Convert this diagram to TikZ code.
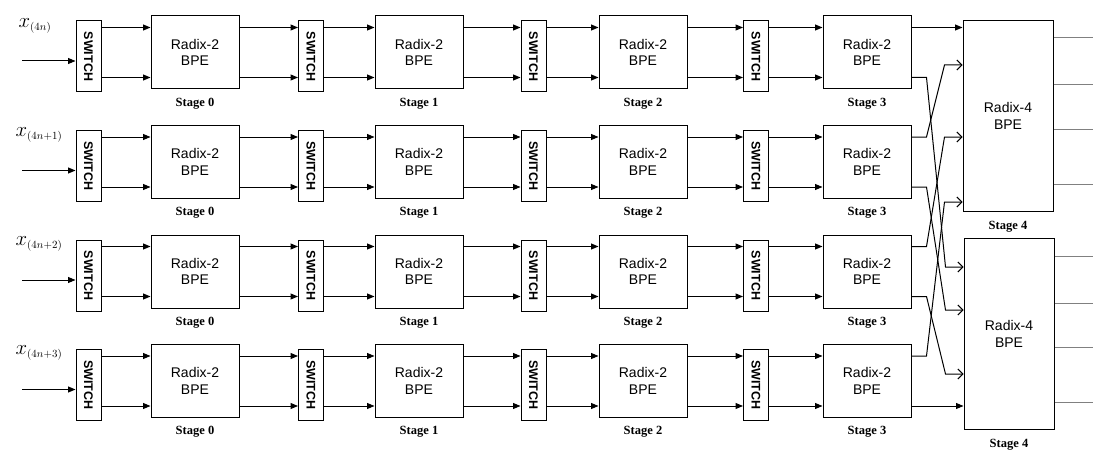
\documentclass[tikz,border=0pt]{standalone}
\usepackage{fontspec}
\setmainfont{Liberation Serif}
\setsansfont{Liberation Sans}
\usepackage{tikz}
\usetikzlibrary{positioning,arrows.meta,calc}

\begin{document}
\begin{tikzpicture}[x=1pt,y=-1pt,>={Triangle[length=7.5pt,width=6pt]},line width=1pt,
  every node/.style={font=\sffamily\fontsize{14}{16.5}\selectfont},
  bpe/.style={draw,minimum width=88pt,minimum height=73pt,align=center,inner sep=0pt},
  swbox/.style={draw,minimum width=25pt,minimum height=71pt,inner sep=0pt,font=\sffamily\bfseries\fontsize{12.5}{13}\selectfont},
  rfour/.style={draw,minimum width=90pt,minimum height=191pt,align=center,inner sep=0pt},
  stagelbl/.style={inner sep=1pt,font=\rmfamily\bfseries\fontsize{12.5}{13}\selectfont},
  xlbl/.style={font=\fontsize{21}{24}\selectfont},
  bent/.style={-{Straight Barb[length=5pt,width=10pt]}},
  outw/.style={gray}]
\useasboundingbox (0,0) rectangle (1093,452);
\foreach \r in {0,...,3}{
  \foreach \s in {0,...,3}{
    \node[swbox] (sw\r\s) at (88.5+222.5*\s,56.5+109.5*\r) {\rotatebox{-90}{SWITCH}};
    \node[bpe] (b\r\s) at (195+224*\s,52.5+109.5*\r) {Radix-2\\BPE};
    \node[stagelbl,below=7pt of b\r\s] (st\r\s) {Stage \s};
    \coordinate (pi\r\s1) at ([yshift=25pt]b\r\s.west);
    \coordinate (pi\r\s2) at ([yshift=-25pt]b\r\s.west);
    \coordinate (po\r\s1) at ([yshift=25pt]b\r\s.east);
    \coordinate (po\r\s2) at ([yshift=-25pt]b\r\s.east);
    \draw[->] (sw\r\s.east |- pi\r\s1) -- (pi\r\s1);
    \draw[->] (sw\r\s.east |- pi\r\s2) -- (pi\r\s2);
  }
  \foreach \s [count=\t from 1] in {0,1,2}{
    \draw[->] (po\r\s1) -- (po\r\s1 -| sw\r\t.west);
    \draw[->] (po\r\s2) -- (po\r\s2 -| sw\r\t.west);
  }
  \coordinate (in\r) at (22,61+109.5*\r);
  \draw[->] (in\r) -- (in\r -| sw\r0.west);
}
\node[xlbl] (x0) at (35,26) {$x_{\scriptscriptstyle (4n)}$};
\node[xlbl] (x1) at (39,135) {$x_{\scriptscriptstyle (4n+1)}$};
\node[xlbl] (x2) at (39,244) {$x_{\scriptscriptstyle (4n+2)}$};
\node[xlbl] (x3) at (39,353) {$x_{\scriptscriptstyle (4n+3)}$};

\node[rfour] (ra) at (1008,116) {Radix-4\\BPE};
\node[rfour] (rb) at (1009,334) {Radix-4\\BPE};
\node[stagelbl,below=8pt of ra] (sta) {Stage 4};
\node[stagelbl,below=8pt of rb] (stb) {Stage 4};

\coordinate (a2) at ($(ra.west)+(0,-51)$);
\coordinate (a3) at ($(ra.west)+(0,21)$);
\coordinate (a4) at ($(ra.west)+(0,86)$);
\coordinate (c1) at ($(rb.west)+(0,-67)$);
\coordinate (c2) at ($(rb.west)+(0,-24)$);
\coordinate (c3) at ($(rb.west)+(0,40)$);
\draw[->] (po031) -- (po031 -| ra.west);
\draw[->] (po332) -- (po332 -| rb.west);
\draw[bent] (po131) -- ++(15,0) -- ([xshift=-18pt]a2) -- (a2);
\draw[bent] (po231) -- ++(15,0) -- ([xshift=-18pt]a3) -- (a3);
\draw[bent] (po331) -- ++(15,0) -- ([xshift=-18pt]a4) -- (a4);
\draw[bent] (po032) -- ++(15,0) -- ([xshift=-18pt]c1) -- (c1);
\draw[bent] (po132) -- ++(15,0) -- ([xshift=-18pt]c2) -- (c2);
\draw[bent] (po232) -- ++(15,0) -- ([xshift=-18pt]c3) -- (c3);

\foreach \d in {-78,-31,13,68}{
  \draw[outw] ($(ra.east)+(0,\d)$) -- ++(40,0);
  \draw[outw] ($(rb.east)+(0,\d)$) -- ++(40,0);
}
\end{tikzpicture}
\end{document}
